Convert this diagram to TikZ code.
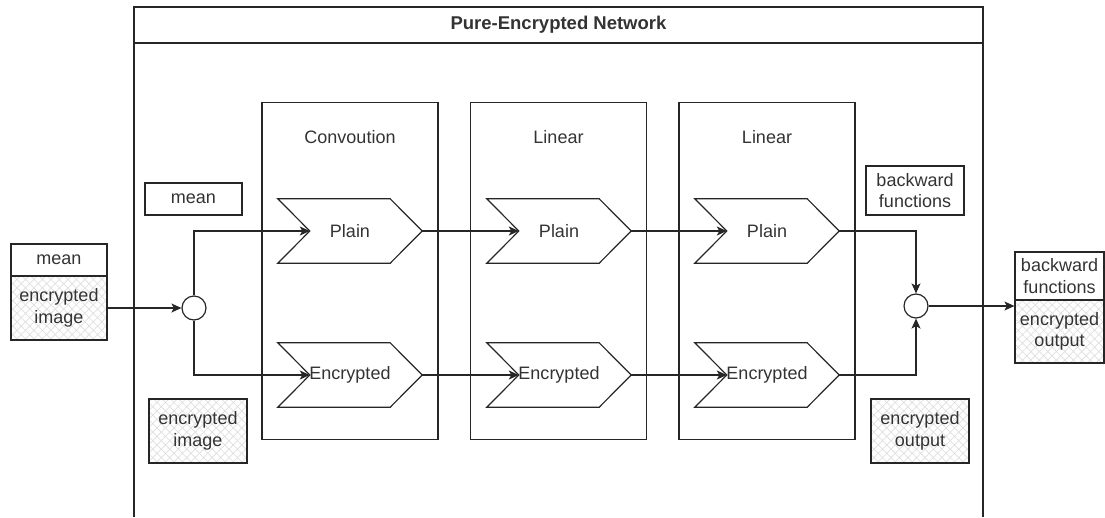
\documentclass[tikz,border=0pt]{standalone}
\usepackage{fontspec}
\setmainfont{Liberation Sans}
\usetikzlibrary{calc,arrows.meta,patterns.meta}

\begin{document}
\begin{tikzpicture}[x=1pt,y=-1pt,
  every node/.style={font=\fontsize{18}{21.5}\selectfont, text=black!80},
  line/.style={line width=1.2pt, draw=black!85},
  arr/.style={line, -{Stealth[length=10pt,width=9pt,inset=2.5pt]}},
  plainbox/.style={line, rectangle, inner sep=0pt, align=center},
  hatch/.style={plainbox,
    preaction={pattern={Lines[angle=45,distance=6pt,line width=0.7pt]}, pattern color=black!13},
    pattern={Lines[angle=-45,distance=6pt,line width=0.7pt]}, pattern color=black!13},
  layerbox/.style={line, rectangle, minimum width=176pt, minimum height=337pt, inner sep=0pt},
  chev/.style={rectangle, minimum width=144pt, minimum height=64pt, inner sep=0pt},
  junction/.style={line, circle, fill=white, minimum size=24pt, inner sep=0pt},
]
\useasboundingbox (0,0) rectangle (1105,517);

% outer swimlane with its title bar
\draw[line] (134,517) -- (134,7) -- (983,7) -- (983,517);
\draw[line] (134,43) -- (983,43);
\node[font=\bfseries\fontsize{18.5}{22}\selectfont] (title) at (558.5,25) {Pure-Encrypted Network};

% layer containers
\node[layerbox] (conv) at (350,271) {};
\node[layerbox] (lin1) at (558.5,271) {};
\node[layerbox] (lin2) at (767,271) {};
\node (convT) at (350,137) {Convoution};
\node (lin1T) at (558.5,137) {Linear};
\node (lin2T) at (767,137) {Linear};

% chevron steps
\node[chev] (cp1) at (350,231) {Plain};
\node[chev] (cp2) at (559,231) {Plain};
\node[chev] (cp3) at (767,231) {Plain};
\node[chev] (ce1) at (350,375) {Encrypted};
\node[chev] (ce2) at (559,375) {Encrypted};
\node[chev] (ce3) at (767,375) {Encrypted};
\foreach \c in {cp1,cp2,cp3,ce1,ce2,ce3}{
  \draw[line, line join=miter] (\c.north west) -- ($(\c.north east)+(-32,0)$) -- (\c.east)
    -- ($(\c.south east)+(-32,0)$) -- (\c.south west) -- ($(\c.west)+(32,0)$) -- cycle;
  \coordinate (\c n) at ($(\c.west)+(32,0)$);
}

% input and output stacks
\node[plainbox, minimum width=96pt, minimum height=32pt] (inMean) at (59,260) {mean};
\node[hatch, minimum width=96pt, minimum height=64pt] (inImg) at (59,308) {encrypted\\image};
\node[plainbox, minimum width=89pt, minimum height=48pt] (outBack) at (1059.5,276) {backward\\functions};
\node[hatch, minimum width=89pt, minimum height=63pt] (outEnc) at (1059.5,331.5) {encrypted\\output};

% labels inside the network
\node[plainbox, minimum width=97pt, minimum height=32pt] (meanL) at (193.5,199) {mean};
\node[hatch, minimum width=98pt, minimum height=64pt] (imgL) at (198,431) {encrypted\\image};
\node[plainbox, minimum width=98pt, minimum height=49pt] (backL) at (915,190.5) {backward\\functions};
\node[hatch, minimum width=98pt, minimum height=64pt] (outL) at (920,431) {encrypted\\output};

% junctions
\node[junction] (j1) at (194,308) {};
\node[junction] (j2) at (916,306) {};

% connectors
\draw[arr] (inImg.east) -- (j1.west);
\draw[arr] (j1.north) |- (cp1n);
\draw[arr] (j1.south) |- (ce1n);
\draw[arr] (cp1.east) -- (cp2n);
\draw[arr] (cp2.east) -- (cp3n);
\draw[arr] (ce1.east) -- (ce2n);
\draw[arr] (ce2.east) -- (ce3n);
\draw[arr] (cp3.east) -| (j2.north);
\draw[arr] (ce3.east) -| (j2.south);
\draw[arr] (j2.east) -- (j2.east -| outEnc.west);
\end{tikzpicture}
\end{document}
